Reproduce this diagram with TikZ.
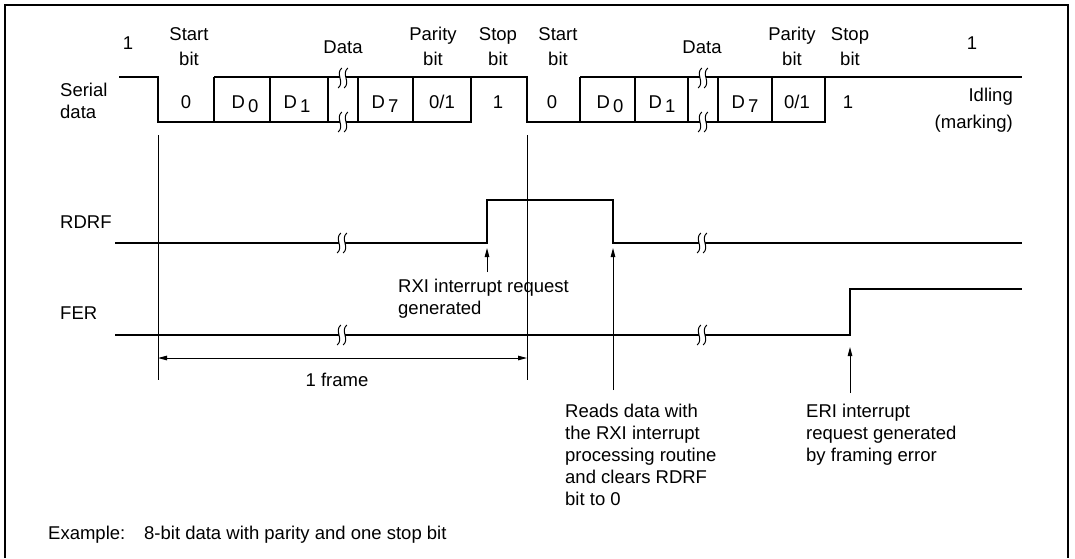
\documentclass[tikz,border=0pt]{standalone}
\usepackage{fontspec}
\setmainfont{Liberation Sans}
\usetikzlibrary{arrows.meta}
\tikzset{
  wave/.style={line width=2pt},
  guide/.style={line width=1pt},
  tip/.style={line width=1pt, -{Triangle[length=9pt,width=4.5pt]}},
  twotip/.style={line width=1pt, {Triangle[length=9pt,width=4.5pt]}-{Triangle[length=9pt,width=4.5pt]}},
  head/.style={inner sep=0pt, align=center, anchor=north, font=\fontsize{18.5}{25}\selectfont},
  cell/.style={inner sep=0pt, anchor=base, font=\fontsize{18.5}{22}\selectfont},
  side/.style={inner sep=0pt, align=left, anchor=north west, font=\fontsize{18.5}{22}\selectfont},
  brk/.pic={
    \fill[white] (-3,-4) rectangle (3,4);
    \foreach \dx in {-3,3}
      \draw[line width=1pt] ({\dx+1.8},-10) .. controls ({\dx-5},-4) and ({\dx+5},4) .. ({\dx-1.8},10);
  }
}
\newcommand{\Dsub}[1]{D\,\raisebox{-4.5pt}{#1}}
\begin{document}
\begin{tikzpicture}[x=1pt,y=-1pt]
\useasboundingbox (0,0) rectangle (1075,558);
\draw[line width=2pt] (5,558) -- (5,5) -- (1068,5) -- (1068,558);

% signal names
\node[side] (serial) at (60,83) {Serial\\data};
\node[side] (rdrf) at (60,216) {RDRF};
\node[side] (fer) at (60,307) {FER};

% serial data
\draw[wave] (119,77) -- (158,77) -- (158,122) -- (471,122) -- (471,77) -- (527,77) -- (527,122) -- (825,122) -- (825,77) -- (1022,77);
\draw[wave] (214,77) -- (471,77) (580,77) -- (825,77);
\foreach \x in {214,270,328,358,413,580,635,688,718,772}
  \draw[wave] (\x,77) -- (\x,122);

% RDRF and FER
\draw[wave] (115,243) -- (487,243) -- (487,200) -- (613,200) -- (613,243) -- (1022,243);
\draw[wave] (115,335) -- (850,335) -- (850,289) -- (1022,289);

% breaks
\foreach \x in {343,703} {
  \pic at (\x,78) {brk};
  \pic at (\x,122) {brk};
}
\foreach \x in {342,702} {
  \pic at (\x,243) {brk};
  \pic at (\x,335) {brk};
}

% bit names
\node[head] (one1) at (128,37) {1};
\node[head] (start1) at (189,27) {Start\\bit};
\node[head] (data1) at (343,41) {Data};
\node[head] (par1) at (433,27) {Parity\\bit};
\node[head] (stop1) at (498,27) {Stop\\bit};
\node[head] (start2) at (558,27) {Start\\bit};
\node[head] (data2) at (702,41) {Data};
\node[head] (par2) at (792,27) {Parity\\bit};
\node[head] (stop2) at (850,27) {Stop\\bit};
\node[head] (one2) at (972,37) {1};

% bit values
\node[cell] (b0) at (186,108) {0};
\node[cell] (b1) at (245,108) {\Dsub{0}};
\node[cell] (b2) at (297,108) {\Dsub{1}};
\node[cell] (b3) at (385,108) {\Dsub{7}};
\node[cell] (b4) at (442,108) {0/1};
\node[cell] (b5) at (498,108) {1};
\node[cell] (c0) at (552,108) {0};
\node[cell] (c1) at (610,108) {\Dsub{0}};
\node[cell] (c2) at (662,108) {\Dsub{1}};
\node[cell] (c3) at (745,108) {\Dsub{7}};
\node[cell] (c4) at (797,108) {0/1};
\node[cell] (c5) at (848,108) {1};
\node[side, anchor=north east, align=right, font=\fontsize{18.5}{27}\selectfont] (idle) at (1013,88) {Idling\\(marking)};

% one frame
\draw[guide] (158,135) -- (158,380);
\draw[guide] (527,135) -- (527,380);
\coordinate (fs) at (158,358);
\coordinate (fe) at (527,358);
\draw[twotip] (fs) -- (fe);
\node[side, anchor=north] (frame) at (337,373) {1 frame};

% interrupt notes
\node[side] (rxi) at (398,279) {RXI interrupt request\\generated};
\coordinate (rxifrom) at (487,272);
\coordinate (rxito) at (487,248);
\draw[tip] (rxifrom) -- (rxito);

\node[side] (reads) at (565,404) {Reads data with\\the RXI interrupt\\processing routine\\and clears RDRF\\bit to 0};
\coordinate (readsfrom) at (613,390);
\coordinate (readsto) at (613,248);
\draw[tip] (readsfrom) -- (readsto);

\node[side] (eri) at (806,404) {ERI interrupt\\request generated\\by framing error};
\coordinate (erifrom) at (850,393);
\coordinate (erito) at (850,347);
\draw[tip] (erifrom) -- (erito);

\node[side] (note) at (48,526) {Example:\hspace{12pt} 8-bit data with parity and one stop bit};
\end{tikzpicture}
\end{document}
